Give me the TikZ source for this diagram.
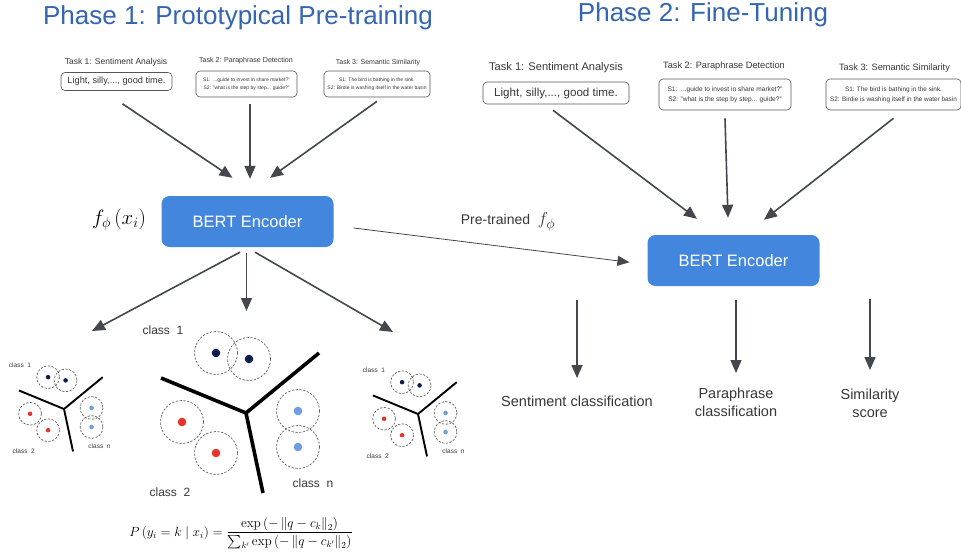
\documentclass[tikz,border=0pt]{standalone}
\usepackage[no-math]{fontspec}
\setmainfont{Liberation Sans}
\usepackage{amsmath}
\usetikzlibrary{arrows.meta,positioning}

\definecolor{titleblue}{RGB}{52,101,176}
\definecolor{bertblue}{RGB}{67,134,222}
\definecolor{arrowgray}{RGB}{68,71,76}
\definecolor{darktext}{RGB}{55,55,55}
\definecolor{boxgray}{RGB}{85,85,85}
\definecolor{navy}{RGB}{12,30,78}
\definecolor{rosso}{RGB}{232,50,42}
\definecolor{azzurro}{RGB}{108,158,224}

\newcommand{\fsz}[1]{\fontsize{#1}{1.25\dimexpr#1pt\relax}\selectfont}

% mappa dei prototipi: nome, x, y, scala, corpo del testo
\newcommand{\classmap}[5]{%
\begin{scope}[shift={(#2,#3)},scale=#4]
  \coordinate (#1) at (0,0); % incrocio delle rette
  \draw[line width=3.6pt*#4] (-85,-35) -- (#1) -- (73,-60) (#1) -- (17,80);
  \foreach \px/\py/\col in {-30/-60/navy,3/-54/navy,-64/9/rosso,
                            -30/40/rosso,52/-2/azzurro,52/34/azzurro} {
    \draw[proto] (\px,\py) circle[radius=21.5];
    \fill[\col] (\px,\py) circle[radius=4.3];
  }
  \node[classe,font=\fsz{#5}] (#1-uno) at (-83,-83) {class\ \ 1};
  \node[classe,font=\fsz{#5}] (#1-due) at (-76,79) {class\ \ 2};
  \node[classe,font=\fsz{#5}] (#1-enne) at (67,70) {class\ \ n};
\end{scope}}

\begin{document}
\begin{tikzpicture}[x=1pt,y=-1pt,font=\fsz{10},
  titolo/.style={text=titleblue,font=\fsz{26},inner sep=0pt},
  bert/.style={fill=bertblue,text=white,rounded corners=8pt,
               minimum width=172pt,minimum height=51pt,font=\fsz{16.5}},
  tasktit/.style={text=darktext,inner sep=0pt},
  taskbox/.style={draw=boxgray,line width=0.6pt,rounded corners=4pt,
                  text=darktext,align=center,inner sep=1pt},
  fl/.style={draw=arrowgray,line width=1.6pt,-{Triangle[length=13pt,width=11pt]}},
  flthin/.style={draw=arrowgray,line width=0.8pt,-{Triangle[length=12pt,width=10pt]}},
  uscita/.style={text=darktext,align=center,anchor=north,inner sep=0pt,
                 font=\fontsize{14.5}{18}\selectfont},
  proto/.style={draw=gray!75!black,line width=0.7pt,dash pattern=on 2.2pt off 1.6pt},
  classe/.style={text=darktext,inner sep=0pt}]
\useasboundingbox[fill=white] (0,0) rectangle (961,554);

% titoli
\node[titolo] (fase1) at (238,18) {Phase 1: Prototypical Pre-training};
\node[titolo] (fase2) at (703,15) {Phase 2: Fine-Tuning};

% compiti, fase 1
\node[tasktit,font=\fsz{8.5}] (tA1) at (116,62) {Task 1: Sentiment Analysis};
\node[taskbox,font=\fsz{9.2},minimum width=111pt,minimum height=18pt]
  (bA1) at (116.5,81.5) {Light, silly,..., good time.};
\node[tasktit,font=\fsz{7.1}] (tA2) at (246,61) {Task 2: Paraphrase Detection};
\node[taskbox,font=\fontsize{5}{8}\selectfont,minimum width=101pt,minimum height=26pt]
  (bA2) at (246.5,84) {S1:\ \ ...guide to invest in share market?"\\
                       S2: "what is the step by step... guide?"};
\node[tasktit,font=\fsz{7}] (tA3) at (378,63) {Task 3: Semantic Similarity};
\node[taskbox,font=\fontsize{5}{8}\selectfont,minimum width=106pt,minimum height=26pt]
  (bA3) at (377,84) {S1: The bird is bathing in the sink.\\
                     S2: Birdie is washing itself in the water basin};

% compiti, fase 2
\node[tasktit,font=\fsz{11.1}] (tB1) at (556,68) {Task 1: Sentiment Analysis};
\node[taskbox,font=\fsz{11.6},minimum width=146pt,minimum height=22pt]
  (bB1) at (556,93) {Light, silly,..., good time.};
\node[tasktit,font=\fsz{9.2}] (tB2) at (724,66) {Task 2: Paraphrase Detection};
\node[taskbox,font=\fontsize{6.6}{10}\selectfont,minimum width=132pt,minimum height=31pt]
  (bB2) at (725,94.5) {S1:\ \ ...guide to invest in share market?"\\
                       S2: "what is the step by step... guide?"};
\node[tasktit,font=\fsz{9.2}] (tB3) at (894.5,68) {Task 3: Semantic Similarity};
\node[taskbox,font=\fontsize{6.4}{10}\selectfont,minimum width=135pt,minimum height=31pt]
  (bB3) at (893.5,94.5) {S1: The bird is bathing in the sink.\\
                         S2: Birdie is washing itself in the water basin};

% encoder
\node[bert] (bertA) at (247.5,221.5) {BERT Encoder};
\node[bert] (bertB) at (733.5,260.5) {BERT Encoder};
\node[inner sep=0pt,font=\fsz{19.5}] (fphi) at (119,220) {$f_{\phi}\left(x_{i}\right)$};

\draw[fl] ([shift={(6,13)}]bA1.south) -- ([shift={(-15,-18)}]bertA.north);
\draw[fl] ([shift={(3.5,7)}]bA2.south) -- ([shift={(2.5,-17)}]bertA.north);
\draw[fl] ([shift={(0,4)}]bA3.south) -- ([shift={(22.5,-18)}]bertA.north);

\draw[fl] ([shift={(-3,6)}]bB1.south) -- ([shift={(-36.5,-16)}]bertB.north);
\draw[fl] ([shift={(0,8)}]bB2.south) -- ([shift={(-5.5,-17)}]bertB.north);
\draw[fl] ([shift={(0,8)}]bB3.south) -- ([shift={(30.5,-15)}]bertB.north);

% pesi pre-addestrati
\draw[flthin,shorten <=20pt,shorten >=18pt]
  ([shift={(0,4)}]bertA.east) -- ([shift={(0,4)}]bertB.west);
\node[text=darktext,font=\fsz{14}] (pretr) at (508,222)
  {Pre-trained\ \ {\fsz{19}$f_{\phi}$}};

% mappe dei prototipi
\classmap{clA}{64}{409}{0.53}{6.5}
\classmap{clB}{246}{413}{1}{12}
\classmap{clC}{418}{414}{0.53}{6.5}
\coordinate (puntaA) at (92,331);
\coordinate (puntaB) at (246.5,311);
\coordinate (puntaC) at (393,332);
\draw[fl] ([shift={(-7.5,5)}]bertA.south) -- (puntaA);
\draw[fl] ([shift={(-1,6)}]bertA.south) -- (puntaB);
\draw[fl] ([shift={(7.5,5)}]bertA.south) -- (puntaC);

\node[inner sep=0pt,font=\fsz{14.4},scale=0.925,transform shape] (formula) at (241,533)
  {$\displaystyle P\left(y_i=k\mid x_i\right)=\frac{\exp\left(-\left\|q-c_k\right\|_2\right)}
   {\sum_{k'}\exp\left(-\left\|q-c_{k'}\right\|_2\right)}$};

% uscite
\node[uscita] (oB1) at (577,396) {Sentiment classification};
\node[uscita] (oB2) at (736,388) {Paraphrase\\classification};
\node[uscita] (oB3) at (870,389) {Similarity\\score};
\draw[fl,shorten <=14pt,shorten >=18pt] (bertB.south -| oB1.north) -- (oB1.north);
\draw[fl,shorten <=14pt,shorten >=15pt] (bertB.south -| oB2.north) -- (oB2.north);
\draw[fl,shorten <=13pt,shorten >=19pt] (bertB.south -| oB3.north) -- (oB3.north);
\end{tikzpicture}
\end{document}
